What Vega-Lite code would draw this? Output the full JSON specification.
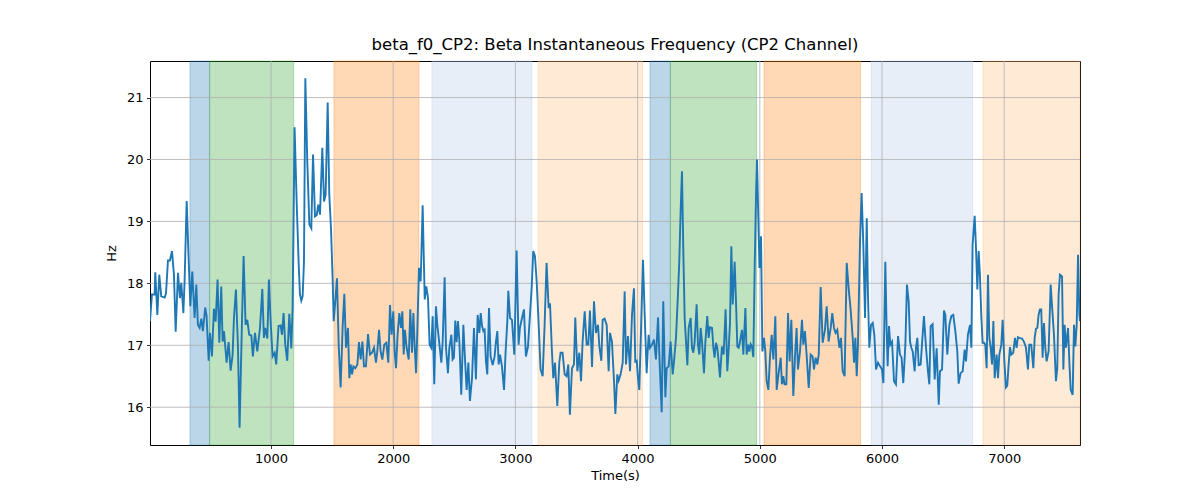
{
"$schema": "https://vega.github.io/schema/vega-lite/v6.json",
"width": 930,
"height": 384,
"autosize": {"type": "none"},
"padding": {"left": 150, "top": 61, "right": 120, "bottom": 55},
"title": {"text": "beta_f0_CP2: Beta Instantaneous Frequency (CP2 Channel)", "font": "DejaVu Sans", "fontSize": 16.5, "fontWeight": "normal", "color": "#000000", "offset": 7},
"config": {
  "view": {"stroke": "#000000", "strokeWidth": 1},
  "axis": {"labelFont": "DejaVu Sans", "labelFontSize": 13, "labelColor": "#000000", "titleFont": "DejaVu Sans", "titleFontSize": 13, "titleFontWeight": "normal", "titleColor": "#000000", "tickColor": "#000000", "tickSize": 3.5, "tickWidth": 0.8, "domain": false, "grid": false, "labelPadding": 3.5}
},
"datasets": {
  "spans": [
    {"s": 337, "e": 498, "c": "p1"},
    {"s": 498, "e": 1186, "c": "p2"},
    {"s": 1515, "e": 2211, "c": "p3"},
    {"s": 2317, "e": 3136, "c": "p4"},
    {"s": 3185, "e": 4041, "c": "p5"},
    {"s": 4101, "e": 4268, "c": "p1"},
    {"s": 4268, "e": 4974, "c": "p2"},
    {"s": 5034, "e": 5825, "c": "p3"},
    {"s": 5912, "e": 6742, "c": "p4"},
    {"s": 6826, "e": 7620, "c": "p5"}
  ],
  "xgrid": [{"g": 1000}, {"g": 2000}, {"g": 3000}, {"g": 4000}, {"g": 5000}, {"g": 6000}, {"g": 7000}],
  "ygrid": [{"h": 16}, {"h": 17}, {"h": 18}, {"h": 19}, {"h": 20}, {"h": 21}],
  "line": [
{"t":10,"v":17.39},{"t":26,"v":17.82},{"t":48,"v":17.82},{"t":53,"v":18.18},{"t":70,"v":17.49},{"t":86,"v":18.14},{"t":102,"v":17.79},{"t":130,"v":17.77},{"t":141,"v":17.84},{"t":157,"v":18.37},{"t":173,"v":18.37},{"t":190,"v":18.52},{"t":206,"v":18.14},{"t":220,"v":17.22},{"t":239,"v":18.17},{"t":255,"v":17.76},{"t":266,"v":18.01},{"t":283,"v":17.52},{"t":293,"v":18.03},{"t":310,"v":19.33},{"t":326,"v":18.41},{"t":340,"v":17.63},{"t":356,"v":18.19},{"t":375,"v":17.44},{"t":389,"v":17.98},{"t":402,"v":17.33},{"t":416,"v":17.28},{"t":430,"v":17.43},{"t":443,"v":17.23},{"t":462,"v":17.61},{"t":473,"v":17.47},{"t":490,"v":16.75},{"t":501,"v":17.2},{"t":517,"v":16.82},{"t":533,"v":17.59},{"t":547,"v":17.38},{"t":563,"v":18.06},{"t":577,"v":17.04},{"t":593,"v":17.95},{"t":604,"v":17.06},{"t":615,"v":17.23},{"t":637,"v":16.72},{"t":653,"v":17.05},{"t":670,"v":16.59},{"t":686,"v":16.85},{"t":697,"v":17.44},{"t":713,"v":17.9},{"t":730,"v":16.96},{"t":743,"v":15.67},{"t":762,"v":17.33},{"t":776,"v":18.44},{"t":792,"v":17.33},{"t":806,"v":17.41},{"t":822,"v":17.17},{"t":839,"v":17.16},{"t":852,"v":16.82},{"t":869,"v":17.2},{"t":888,"v":16.9},{"t":910,"v":17.28},{"t":929,"v":17.91},{"t":942,"v":17.12},{"t":953,"v":17.28},{"t":970,"v":17.11},{"t":983,"v":18.06},{"t":997,"v":17.39},{"t":1013,"v":16.82},{"t":1030,"v":16.88},{"t":1043,"v":16.69},{"t":1062,"v":17.31},{"t":1079,"v":17.32},{"t":1090,"v":17.17},{"t":1103,"v":17.52},{"t":1117,"v":17.01},{"t":1133,"v":16.75},{"t":1150,"v":17.51},{"t":1166,"v":16.95},{"t":1177,"v":17.6},{"t":1193,"v":20.52},{"t":1210,"v":19.32},{"t":1226,"v":18.35},{"t":1237,"v":17.82},{"t":1248,"v":17.72},{"t":1259,"v":17.79},{"t":1270,"v":18.35},{"t":1281,"v":21.31},
{"t":1297,"v":19.97},{"t":1314,"v":18.95},{"t":1330,"v":18.89},{"t":1344,"v":20.08},{"t":1360,"v":19.08},{"t":1374,"v":19.1},{"t":1387,"v":19.27},{"t":1401,"v":19.11},{"t":1420,"v":20.19},{"t":1434,"v":19.32},{"t":1447,"v":19.43},{"t":1464,"v":20.92},{"t":1477,"v":19.43},{"t":1491,"v":18.89},{"t":1505,"v":18.03},{"t":1513,"v":17.39},{"t":1526,"v":17.71},{"t":1540,"v":18.08},{"t":1554,"v":17.01},{"t":1570,"v":16.32},{"t":1586,"v":17.28},{"t":1600,"v":17.83},{"t":1614,"v":16.96},{"t":1630,"v":17.28},{"t":1641,"v":16.47},{"t":1652,"v":16.69},{"t":1663,"v":16.53},{"t":1674,"v":16.66},{"t":1690,"v":16.63},{"t":1707,"v":16.69},{"t":1720,"v":17.05},{"t":1734,"v":16.77},{"t":1748,"v":17.06},{"t":1761,"v":16.66},{"t":1777,"v":16.66},{"t":1794,"v":17.18},{"t":1810,"v":16.85},{"t":1827,"v":16.88},{"t":1843,"v":16.96},{"t":1859,"v":16.72},{"t":1870,"v":16.9},{"t":1884,"v":17.25},{"t":1897,"v":16.9},{"t":1911,"v":16.77},{"t":1927,"v":17.01},{"t":1944,"v":17.04},{"t":1960,"v":16.72},{"t":1974,"v":17.65},{"t":1987,"v":17.17},{"t":2001,"v":17.55},{"t":2012,"v":16.9},{"t":2023,"v":16.63},{"t":2036,"v":17.17},{"t":2050,"v":17.52},{"t":2064,"v":17.28},{"t":2075,"v":17.55},{"t":2086,"v":16.85},{"t":2096,"v":17.25},{"t":2110,"v":16.96},{"t":2127,"v":16.77},{"t":2140,"v":17.58},{"t":2154,"v":16.88},{"t":2165,"v":17.52},{"t":2176,"v":16.98},{"t":2187,"v":16.55},{"t":2197,"v":17.2},{"t":2211,"v":18.25},{"t":2225,"v":18.03},{"t":2241,"v":19.26},{"t":2258,"v":17.74},{"t":2271,"v":17.95},{"t":2285,"v":17.76},{"t":2298,"v":17.01},{"t":2312,"v":16.96},{"t":2323,"v":17.47},{"t":2336,"v":16.37},{"t":2350,"v":17.63},{"t":2361,"v":17.33},{"t":2377,"v":17.04},{"t":2394,"v":16.72},{"t":2405,"v":17.06},{"t":2421,"v":18.1},{"t":2432,"v":16.96},{"t":2448,"v":16.55},{"t":2459,"v":16.95},
{"t":2476,"v":17.17},{"t":2486,"v":16.77},{"t":2497,"v":16.8},{"t":2508,"v":17.4},{"t":2519,"v":17.05},{"t":2530,"v":17.39},{"t":2541,"v":17.09},{"t":2557,"v":16.2},{"t":2574,"v":17.33},{"t":2587,"v":16.8},{"t":2601,"v":16.28},{"t":2615,"v":16.72},{"t":2628,"v":16.1},{"t":2645,"v":16.47},{"t":2661,"v":17.28},{"t":2677,"v":16.45},{"t":2691,"v":17.49},{"t":2705,"v":17.2},{"t":2716,"v":17.52},{"t":2727,"v":17.31},{"t":2738,"v":17.23},{"t":2748,"v":17.25},{"t":2759,"v":16.74},{"t":2770,"v":16.53},{"t":2784,"v":17.6},{"t":2797,"v":16.82},{"t":2814,"v":16.68},{"t":2830,"v":16.82},{"t":2841,"v":17.06},{"t":2852,"v":17.23},{"t":2863,"v":16.69},{"t":2874,"v":16.85},{"t":2890,"v":16.66},{"t":2907,"v":16.28},{"t":2920,"v":16.9},{"t":2934,"v":17.39},{"t":2942,"v":17.88},{"t":2956,"v":17.44},{"t":2972,"v":17.41},{"t":2991,"v":16.85},{"t":3010,"v":18.53},{"t":3026,"v":17.01},{"t":3037,"v":17.28},{"t":3054,"v":17.44},{"t":3070,"v":17.58},{"t":3086,"v":16.82},{"t":3103,"v":16.98},{"t":3119,"v":17.49},{"t":3133,"v":17.92},{"t":3146,"v":18.52},{"t":3160,"v":18.44},{"t":3174,"v":18.03},{"t":3187,"v":17.49},{"t":3206,"v":16.61},{"t":3223,"v":16.5},{"t":3239,"v":17.33},{"t":3255,"v":18.33},{"t":3272,"v":17.6},{"t":3283,"v":17.68},{"t":3299,"v":16.9},{"t":3310,"v":16.47},{"t":3324,"v":16.72},{"t":3343,"v":16.02},{"t":3359,"v":16.72},{"t":3370,"v":16.88},{"t":3386,"v":16.88},{"t":3403,"v":16.53},{"t":3419,"v":16.5},{"t":3433,"v":16.69},{"t":3446,"v":15.88},{"t":3463,"v":16.63},{"t":3479,"v":16.69},{"t":3490,"v":17.45},{"t":3507,"v":16.58},{"t":3523,"v":16.88},{"t":3537,"v":16.42},{"t":3550,"v":17.06},{"t":3567,"v":17.55},{"t":3583,"v":17.01},{"t":3597,"v":17.01},{"t":3610,"v":17.56},{"t":3627,"v":16.65},{"t":3643,"v":17.71},{"t":3659,"v":17.2},{"t":3676,"v":17.33},{"t":3687,"v":16.98},{"t":3703,"v":16.75},{"t":3714,"v":17.41},{"t":3730,"v":17.43},{"t":3747,"v":17.33},{"t":3763,"v":16.58},{"t":3774,"v":17.2},
{"t":3790,"v":17.06},{"t":3807,"v":16.42},{"t":3818,"v":15.89},{"t":3834,"v":16.53},{"t":3845,"v":16.43},{"t":3861,"v":16.53},{"t":3878,"v":16.72},{"t":3894,"v":17.87},{"t":3905,"v":16.69},{"t":3921,"v":17.15},{"t":3938,"v":16.58},{"t":3954,"v":17.49},{"t":3970,"v":17.92},{"t":3981,"v":16.72},{"t":3992,"v":16.77},{"t":4003,"v":16.47},{"t":4014,"v":16.28},{"t":4030,"v":17.39},{"t":4044,"v":18.38},{"t":4058,"v":17.49},{"t":4074,"v":16.55},{"t":4090,"v":17.17},{"t":4101,"v":16.96},{"t":4118,"v":17.01},{"t":4134,"v":17.09},{"t":4150,"v":16.77},{"t":4167,"v":17.45},{"t":4183,"v":16.58},{"t":4197,"v":15.92},{"t":4210,"v":17.71},{"t":4227,"v":16.16},{"t":4238,"v":16.63},{"t":4254,"v":16.66},{"t":4270,"v":17.06},{"t":4287,"v":16.53},{"t":4298,"v":16.74},{"t":4314,"v":17.12},{"t":4330,"v":17.82},{"t":4341,"v":18.35},{"t":4352,"v":19.16},{"t":4363,"v":19.81},{"t":4374,"v":18.52},{"t":4385,"v":17.44},{"t":4396,"v":17.06},{"t":4407,"v":16.68},{"t":4418,"v":17.28},{"t":4434,"v":17.44},{"t":4445,"v":16.96},{"t":4456,"v":16.88},{"t":4467,"v":17.06},{"t":4483,"v":17.66},{"t":4494,"v":17.01},{"t":4505,"v":16.85},{"t":4516,"v":17.28},{"t":4527,"v":17.06},{"t":4543,"v":16.55},{"t":4554,"v":17.04},{"t":4570,"v":17.47},{"t":4581,"v":17.12},{"t":4592,"v":17.29},{"t":4609,"v":17.28},{"t":4620,"v":16.96},{"t":4630,"v":16.8},{"t":4641,"v":17.04},{"t":4652,"v":16.96},{"t":4663,"v":16.74},{"t":4674,"v":16.48},{"t":4690,"v":16.98},{"t":4704,"v":16.85},{"t":4720,"v":17.58},{"t":4734,"v":16.58},{"t":4745,"v":16.93},{"t":4756,"v":17.36},{"t":4767,"v":18.6},{"t":4778,"v":17.66},{"t":4794,"v":18.35},{"t":4805,"v":17.71},{"t":4816,"v":16.98},{"t":4827,"v":16.96},{"t":4838,"v":17.06},{"t":4854,"v":17.25},{"t":4865,"v":16.85},{"t":4882,"v":17.6},{"t":4892,"v":16.85},{"t":4903,"v":17.01},{"t":4914,"v":16.9},{"t":4925,"v":17.02},{"t":4936,"v":16.98},{"t":4947,"v":16.81},{"t":4958,"v":18.25},{"t":4969,"v":19.43},{"t":4977,"v":20.0},{"t":4986,"v":19.22},{"t":4997,"v":18.25},
{"t":5010,"v":18.76},{"t":5021,"v":16.9},{"t":5034,"v":17.12},{"t":5045,"v":16.9},{"t":5056,"v":16.42},{"t":5070,"v":16.28},{"t":5083,"v":16.8},{"t":5097,"v":17.17},{"t":5111,"v":16.77},{"t":5127,"v":17.47},{"t":5138,"v":16.28},{"t":5154,"v":16.55},{"t":5171,"v":16.8},{"t":5181,"v":16.37},{"t":5192,"v":16.5},{"t":5203,"v":16.37},{"t":5217,"v":16.37},{"t":5231,"v":17.52},{"t":5244,"v":16.74},{"t":5258,"v":17.41},{"t":5274,"v":16.18},{"t":5290,"v":16.9},{"t":5301,"v":17.28},{"t":5312,"v":16.61},{"t":5329,"v":16.9},{"t":5345,"v":17.41},{"t":5356,"v":17.01},{"t":5369,"v":17.23},{"t":5383,"v":16.85},{"t":5400,"v":16.31},{"t":5416,"v":16.85},{"t":5432,"v":16.82},{"t":5443,"v":16.61},{"t":5457,"v":16.8},{"t":5471,"v":16.69},{"t":5482,"v":16.85},{"t":5498,"v":17.94},{"t":5514,"v":17.04},{"t":5533,"v":17.25},{"t":5547,"v":17.63},{"t":5563,"v":17.06},{"t":5580,"v":17.28},{"t":5593,"v":17.52},{"t":5607,"v":17.28},{"t":5620,"v":17.2},{"t":5634,"v":17.25},{"t":5651,"v":16.96},{"t":5664,"v":17.12},{"t":5678,"v":16.58},{"t":5694,"v":16.5},{"t":5711,"v":18.33},{"t":5727,"v":17.92},{"t":5743,"v":17.58},{"t":5760,"v":17.12},{"t":5771,"v":16.72},{"t":5782,"v":17.12},{"t":5793,"v":16.5},{"t":5803,"v":17.01},{"t":5820,"v":18.68},{"t":5833,"v":19.46},{"t":5847,"v":18.63},{"t":5861,"v":17.44},{"t":5875,"v":19.05},{"t":5885,"v":17.82},{"t":5896,"v":16.96},{"t":5910,"v":17.33},{"t":5924,"v":17.36},{"t":5937,"v":17.17},{"t":5951,"v":16.61},{"t":5967,"v":16.72},{"t":5984,"v":16.66},{"t":6000,"v":16.61},{"t":6011,"v":16.39},{"t":6027,"v":18.35},{"t":6038,"v":17.23},{"t":6046,"v":16.66},{"t":6057,"v":17.31},{"t":6068,"v":17.01},{"t":6082,"v":17.06},{"t":6098,"v":16.42},{"t":6114,"v":16.37},{"t":6131,"v":17.15},{"t":6147,"v":16.85},{"t":6160,"v":16.8},{"t":6174,"v":16.39},{"t":6191,"v":17.01},{"t":6204,"v":17.98},{"t":6218,"v":17.71},
{"t":6229,"v":17.06},{"t":6240,"v":16.96},{"t":6251,"v":16.9},{"t":6267,"v":16.58},{"t":6278,"v":16.96},{"t":6289,"v":17.12},{"t":6300,"v":16.68},{"t":6316,"v":16.69},{"t":6327,"v":17.01},{"t":6343,"v":17.47},{"t":6360,"v":16.96},{"t":6376,"v":16.58},{"t":6387,"v":16.37},{"t":6398,"v":17.31},{"t":6414,"v":17.34},{"t":6431,"v":16.45},{"t":6447,"v":16.95},{"t":6464,"v":16.04},{"t":6474,"v":16.58},{"t":6491,"v":16.61},{"t":6507,"v":17.56},{"t":6518,"v":17.49},{"t":6534,"v":16.85},{"t":6551,"v":17.33},{"t":6567,"v":17.47},{"t":6583,"v":17.49},{"t":6600,"v":17.23},{"t":6616,"v":16.9},{"t":6627,"v":16.38},{"t":6643,"v":16.55},{"t":6660,"v":16.58},{"t":6676,"v":16.93},{"t":6687,"v":16.74},{"t":6703,"v":17.17},{"t":6720,"v":17.33},{"t":6731,"v":16.96},{"t":6741,"v":18.62},{"t":6758,"v":19.09},{"t":6769,"v":18.57},{"t":6780,"v":17.9},{"t":6791,"v":18.52},{"t":6801,"v":18.14},{"t":6812,"v":17.49},{"t":6823,"v":17.04},{"t":6834,"v":17.04},{"t":6845,"v":17.01},{"t":6856,"v":16.63},{"t":6867,"v":18.14},{"t":6878,"v":17.12},{"t":6889,"v":16.96},{"t":6900,"v":16.69},{"t":6911,"v":17.39},{"t":6922,"v":16.47},{"t":6938,"v":16.85},{"t":6949,"v":16.47},{"t":6960,"v":16.85},{"t":6976,"v":17.01},{"t":6987,"v":17.41},{"t":7001,"v":16.74},{"t":7014,"v":16.32},{"t":7025,"v":16.35},{"t":7036,"v":16.69},{"t":7047,"v":16.97},{"t":7058,"v":16.85},{"t":7074,"v":16.88},{"t":7088,"v":17.12},{"t":7101,"v":16.96},{"t":7112,"v":17.13},{"t":7123,"v":17.12},{"t":7145,"v":17.11},{"t":7161,"v":17.06},{"t":7178,"v":16.96},{"t":7194,"v":16.61},{"t":7205,"v":17.01},{"t":7221,"v":17.01},{"t":7238,"v":16.63},{"t":7249,"v":17.12},{"t":7260,"v":17.27},{"t":7271,"v":17.28},{"t":7281,"v":17.49},{"t":7292,"v":17.58},{"t":7303,"v":17.58},{"t":7314,"v":16.8},{"t":7325,"v":17.36},{"t":7336,"v":16.96},{"t":7347,"v":16.74},{"t":7363,"v":16.9},{"t":7380,"v":17.98},{"t":7396,"v":17.49},{"t":7407,"v":17.17},{"t":7423,"v":16.42},{"t":7434,"v":16.63},{"t":7445,"v":17.82},{"t":7456,"v":18.14},{"t":7473,"v":18.11},{"t":7484,"v":16.61},{"t":7494,"v":17.33},{"t":7505,"v":16.96},{"t":7522,"v":17.28},{"t":7533,"v":16.72},{"t":7544,"v":16.28},{"t":7560,"v":16.2},{"t":7571,"v":17.33},{"t":7582,"v":16.98},{"t":7593,"v":17.33},{"t":7604,"v":18.46},{"t":7615,"v":17.49},{"t":7620,"v":17.39}
  ]
},
"layer": [
  {
    "data": {"name": "spans"},
    "mark": {"type": "rect", "fillOpacity": 0.3, "strokeOpacity": 0.3, "strokeWidth": 1},
    "encoding": {
      "x": {"field": "s", "type": "quantitative", "title": "Time(s)", "scale": {"domain": [10, 7620], "nice": false, "zero": false}},
      "x2": {"field": "e"},
      "fill": {"field": "c", "type": "nominal", "scale": {"domain": ["p1", "p2", "p3", "p4", "p5"], "range": ["#1f77b4", "#2ca02c", "#ff7f0e", "#aec7e8", "#ffbb78"]}, "legend": null},
      "stroke": {"field": "c", "type": "nominal", "scale": {"domain": ["p1", "p2", "p3", "p4", "p5"], "range": ["#1f77b4", "#2ca02c", "#ff7f0e", "#aec7e8", "#ffbb78"]}, "legend": null}
    }
  },
  {
    "data": {"name": "xgrid"},
    "mark": {"type": "rule", "color": "#b0b0b0", "strokeWidth": 0.8},
    "encoding": {
      "x": {"field": "g", "type": "quantitative", "title": "Time(s)"}
    }
  },
  {
    "data": {"name": "ygrid"},
    "mark": {"type": "rule", "color": "#b0b0b0", "strokeWidth": 0.8},
    "encoding": {
      "y": {"field": "h", "type": "quantitative", "title": "Hz"}
    }
  },
  {
    "data": {"name": "line"},
    "mark": {"type": "line", "color": "#1f77b4", "strokeWidth": 1.9, "clip": true},
    "encoding": {
      "x": {"field": "t", "type": "quantitative", "title": "Time(s)", "scale": {"domain": [10, 7620], "nice": false, "zero": false}, "axis": {"values": [1000, 2000, 3000, 4000, 5000, 6000, 7000], "format": "d", "titlePadding": 4}},
      "y": {"field": "v", "type": "quantitative", "title": "Hz", "scale": {"domain": [15.39, 21.59], "nice": false, "zero": false}, "axis": {"values": [16, 17, 18, 19, 20, 21], "format": "d", "titlePadding": 8}}
    }
  }
]
}
